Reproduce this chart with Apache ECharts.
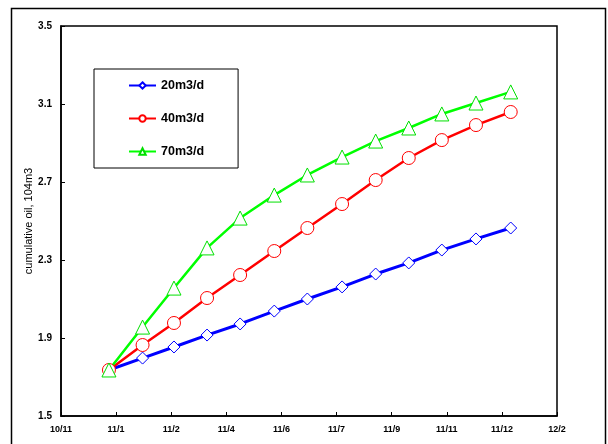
<!DOCTYPE html>
<html>
<head>
<meta charset="utf-8">
<script src="https://cdn.jsdelivr.net/npm/echarts@6/dist/echarts.min.js"></script>
<style>
  html, body { margin: 0; padding: 0; background: #fff; }
  #chart { width: 608px; height: 444px; }
</style>
</head>
<body>
<div id="chart"></div>
<script>
// Tick labels along the date axis (one per unit step)
const xTickLabels = ['10/11', '11/1', '11/2', '11/4', '11/6', '11/7', '11/9', '11/11', '11/12', '12/2'];

// Sampling positions on the date axis
const xPositions = [0.87, 1.48, 2.05, 2.65, 3.25, 3.87, 4.47, 5.10, 5.71, 6.31, 6.91, 7.53, 8.16];

// Cumulative oil, 10^4 m3
const rate20 = [1.736, 1.797, 1.854, 1.915, 1.972, 2.038, 2.100, 2.162, 2.228, 2.285, 2.351, 2.408, 2.464];
const rate40 = [1.736, 1.864, 1.977, 2.105, 2.223, 2.346, 2.464, 2.587, 2.710, 2.823, 2.915, 2.992, 3.059];
const rate70 = [1.736, 1.956, 2.156, 2.362, 2.515, 2.633, 2.736, 2.828, 2.910, 2.977, 3.049, 3.105, 3.162];

const seriesNames = ['20m3/d', '40m3/d', '70m3/d'];

const pair = (ys) => ys.map((y, i) => [xPositions[i], y]);

const FONT = 'Liberation Sans, Arial, sans-serif';

const chart = echarts.init(document.getElementById('chart'), null, { renderer: 'canvas' });

chart.setOption({
  backgroundColor: '#ffffff',
  animation: false,
  graphic: [{
    type: 'rect',
    shape: { x: 11.5, y: 8.5, width: 594, height: 460 },
    style: { fill: 'none', stroke: '#000', lineWidth: 1.5 },
    silent: true,
    z: -1
  }],
  grid: { left: 61, right: 51, top: 26, bottom: 28, show: true, borderColor: '#000', borderWidth: 1.5, backgroundColor: 'transparent' },
  legend: {
    left: 94, top: 69,
    orient: 'vertical',
    padding: [10, 34, 10, 34],
    itemGap: 20,
    itemWidth: 27,
    itemHeight: 8,
    borderColor: '#000',
    borderWidth: 1,
    backgroundColor: '#fff',
    textStyle: { fontFamily: FONT, fontWeight: 'bold', fontSize: 12.5, color: '#000' },
    data: seriesNames
  },
  xAxis: {
    type: 'value',
    min: 0, max: 9, interval: 1,
    splitLine: { show: false },
    axisLine: { lineStyle: { color: '#000', width: 1.5 } },
    axisTick: { inside: true, length: 4, lineStyle: { color: '#000' } },
    axisLabel: {
      margin: 9,
      fontFamily: FONT, fontWeight: 'bold', fontSize: 9, color: '#000',
      formatter: (v) => xTickLabels[Math.round(v)] ?? ''
    }
  },
  yAxis: {
    type: 'value',
    min: 1.5, max: 3.5, interval: 0.4,
    name: 'cumulative oil, 104m3',
    nameLocation: 'middle',
    nameGap: 27,
    nameMoveOverlap: false,
    nameRotate: 90,
    nameTextStyle: { fontFamily: FONT, fontSize: 11, color: '#000' },
    splitLine: { show: false },
    axisLine: { lineStyle: { color: '#000', width: 1.5 } },
    axisTick: { inside: true, length: 4, lineStyle: { color: '#000' } },
    axisLabel: {
      margin: 9,
      fontFamily: FONT, fontWeight: 'bold', fontSize: 10, color: '#000',
      formatter: (v) => v.toFixed(1)
    }
  },
  series: [
    {
      name: seriesNames[0], type: 'line', data: pair(rate20),
      symbol: 'diamond', symbolSize: 12,
      lineStyle: { color: '#0000ff', width: 3 },
      itemStyle: { color: '#fff', borderColor: '#0000ff', borderWidth: 1 },
      color: '#0000ff'
    },
    {
      name: seriesNames[1], type: 'line', data: pair(rate40),
      symbol: 'circle', symbolSize: 13,
      lineStyle: { color: '#ff0000', width: 2.5 },
      itemStyle: { color: '#fff', borderColor: '#ff0000', borderWidth: 1 },
      color: '#ff0000'
    },
    {
      name: seriesNames[2], type: 'line', data: pair(rate70),
      symbol: 'triangle', symbolSize: 14,
      lineStyle: { color: '#00ff00', width: 2.5 },
      itemStyle: { color: '#fff', borderColor: '#00e000', borderWidth: 1 },
      color: '#00ff00'
    }
  ]
});
</script>
</body>
</html>
